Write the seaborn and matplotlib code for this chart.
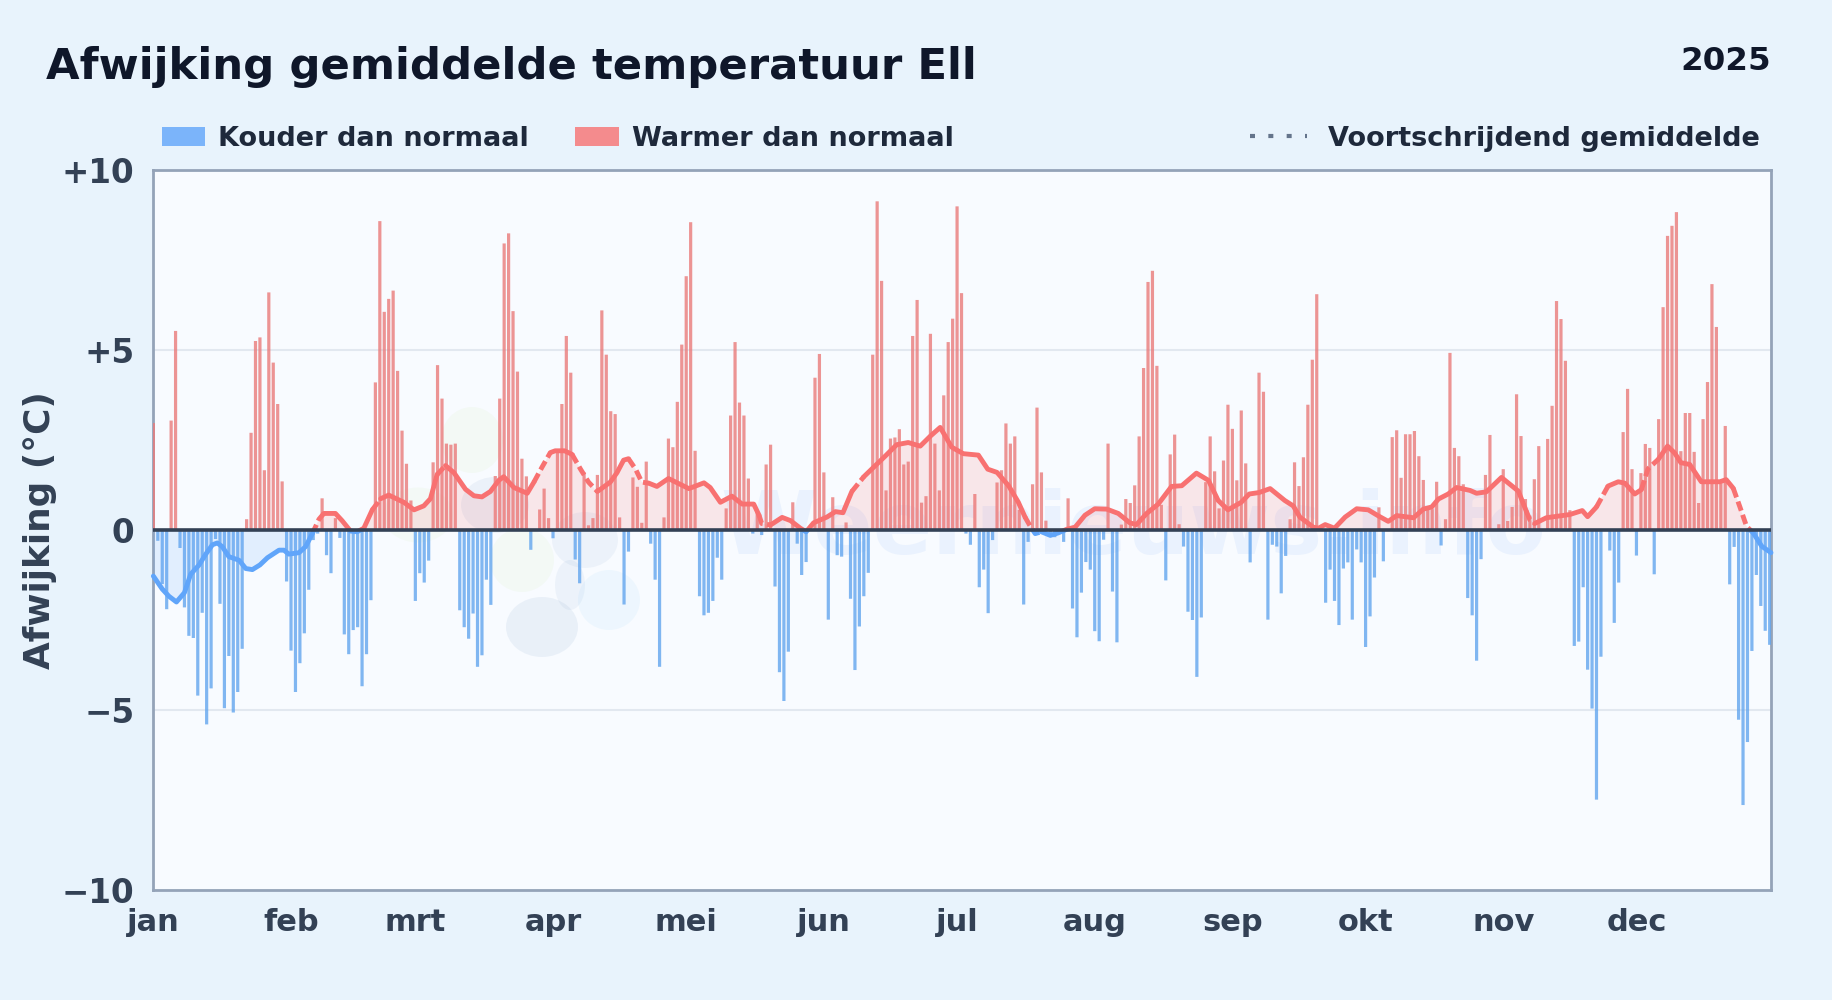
# Afwijking gemiddelde temperatuur per dag, met voortschrijdend gemiddelde
import numpy as np
import pandas as pd
import seaborn as sns
import matplotlib.pyplot as plt
from matplotlib.patches import Ellipse, Patch
from matplotlib.lines import Line2D
from matplotlib.patches import Rectangle

# dagwaarden per maand
jan = [2.97,-0.3,-1.5,-2.2,3.04,5.53,-0.5,-2.15,-2.94,-3.0,-4.6,-2.3,-5.4,-4.4,-0.25,-2.05,-4.95,-3.5,-5.07,-4.5,-3.3,0.3,2.7,5.25,5.35,1.66,6.6,4.65,3.5,1.35,-1.43]
feb = [-3.35,-4.5,-3.7,-2.87,-1.66,-0.28,-0.1,0.88,-0.7,-1.2,0.33,-0.22,-2.9,-3.45,-2.78,-2.7,-4.34,-3.45,-1.95,4.1,8.58,6.06,6.42,6.65,4.42,2.76,1.84,0.82]
mrt = [-1.97,-1.2,-1.46,-0.85,1.88,4.58,3.65,2.4,2.37,2.4,-2.23,-2.7,-3.02,-2.32,-3.8,-3.48,-1.38,-2.08,1.5,3.65,7.96,8.24,6.08,4.4,1.98,1.49,-0.55,0,0.57,1.15,0.33]
apr = [-0.23,2.15,3.5,5.39,4.37,-0.82,-1.48,1.6,0.13,0.33,1.53,6.1,4.87,3.3,3.22,0.35,-2.07,-0.6,1.46,1.2,0.2,1.9,-0.38,-1.38,-3.8,0.35,2.54,2.3,3.56,5.15]
mei = [7.05,8.55,2.2,-1.84,-2.37,-2.3,-1.97,-0.77,-1.38,0.6,3.18,5.22,3.54,3.18,1.43,-0.1,0.5,-0.14,1.82,2.37,-1.57,-3.95,-4.75,-3.38,0.77,-0.38,-1.25,-0.89,0,4.23,4.89]
jun = [1.6,-2.49,0.91,-0.7,-0.74,0.21,-1.91,-3.89,-2.68,-1.84,-1.19,4.87,9.13,6.92,1.1,2.54,2.57,2.8,1.82,1.9,5.39,6.39,0.76,0.94,5.45,2.4,1.1,3.74,5.22,5.87]
jul = [8.99,6.58,-0.1,-0.41,1.0,-1.59,-1.1,-2.31,-0.28,1.32,1.66,2.96,2.4,2.6,0.56,-2.07,-0.33,1.27,3.4,1.6,0.26,-0.1,-0.2,0,-0.33,0.88,-2.18,-2.98,-1.74,-0.89,-1.1]
aug = [-2.81,-3.09,-0.27,2.4,-1.71,-3.12,0.15,0.86,0.75,1.24,2.6,4.5,6.89,7.2,4.56,0.7,-1.4,2.1,2.65,0.16,-0.46,-2.27,-2.5,-4.08,-2.43,1.33,2.6,1.63,0.6,1.93,3.48]
sep = [2.81,1.38,3.32,1.85,-0.9,0,4.37,3.84,-2.49,-0.41,-0.46,-1.76,-0.72,0.3,1.88,1.22,2.02,3.48,4.73,6.55,0,-2.02,-1.1,-1.97,-2.64,-1.07,-0.9,-2.49,-0.54,-0.9]
okt = [-3.25,-2.4,-1.32,0.63,-0.87,0,2.58,2.77,1.45,2.66,2.66,2.75,2.05,1.39,0.58,0.58,1.34,-0.43,0.3,4.92,2.28,2.05,1.27,-1.89,-2.37,-3.63,-0.81,1.53,2.64,0,0.16]
nov = [1.69,0.25,0.64,3.77,2.61,0.86,0.4,1.41,2.33,0,2.53,3.45,6.36,5.86,4.7,0.55,-3.22,-3.1,-1.59,-3.88,-4.96,-7.49,-3.52,0,-0.57,-2.58,-1.46,2.72,3.92,1.69]
dec = [-0.71,1.58,2.39,2.28,-1.23,3.08,6.19,8.17,8.45,8.83,2.19,3.25,3.25,2.17,0.75,3.08,4.11,6.83,5.64,1.3,2.89,-1.51,-0.47,-5.27,-7.64,-5.89,-3.36,-1.25,-2.11,-2.8,-3.19]

month_labels = ["jan","feb","mrt","apr","mei","jun","jul","aug","sep","okt","nov","dec"]
month_values = [jan,feb,mrt,apr,mei,jun,jul,aug,sep,okt,nov,dec]

avg_days = [0,2,3.5,5.2,7,8.4,10.3,11.8,13.3,14.4,15.5,17,19.3,20.8,22.3,24,25.7,28.3,29.4,30.5,32.8,34.3,35.8,37.3,38.4,41,42.5,44.4,45.9,47.4,49.3,51.2,53,56.4,58.7,60.9,62.4,63.9,65.8,67.7,70.3,72.2,74,75.9,77.8,78.9,81.2,84.2,85.7,87.5,89.4,90.5,92.6,
            94.3,96.2,98,100,102.9,104.4,105.9,107,108.6,110,111.6,113.4,116,120.6,124,125.4,127.7,130.3,132.6,135.2,136.4,137,139,141.6,143.5,145.7,147,148.7,151.7,153.6,155.3,157.3,160,162.6,164.8,167.4,170,172.7,175,177.2,179.8,182.4,185.8,
            187.9,190,192.6,194.8,196.3,197.5,198.6,200,202,203.8,205.7,207.6,209.8,212,214.7,217.3,219.9,221.4,223.7,226.3,229.3,231.6,234.9,237.6,239.8,242,245,246.8,249,251.5,254.8,256.7,258.2,261.2,262.4,263.9,266,268.4,271,273.6,275.9,
            278.1,280,283.8,286,287.9,289.4,291.6,293.5,296.5,298,300.2,303.6,305.5,307.4,309.2,310,311.1,313.7,319,321.8,323,325,327.6,329.9,331.4,333.6,335.1,336.6,338.9,341,342.6,344,346,348.6,352.8,354.2,355.8,357.3,358.8,360.3,362.2,364.3]
avg_values = [-1.28,-1.64,-1.84,-2.0,-1.74,-1.23,-0.97,-0.67,-0.41,-0.36,-0.46,-0.74,-0.84,-1.07,-1.1,-0.97,-0.77,-0.56,-0.56,-0.67,-0.63,-0.46,-0.1,0.3,0.46,0.46,0.26,-0.03,-0.05,0.05,0.56,0.87,0.97,0.77,0.56,0.67,0.87,1.54,1.79,1.59,1.13,0.95,0.92,1.07,1.38,1.48,1.18,1.02,1.33,1.74,2.15,2.2,2.2,
              2.1,1.69,1.33,1.07,1.33,1.59,1.94,1.98,1.69,1.33,1.3,1.21,1.43,1.15,1.31,1.18,0.77,0.94,0.72,0.72,0.41,0.18,0.14,0.35,0.26,0.05,-0.05,0.2,0.36,0.51,0.48,1.07,1.48,1.79,2.05,2.37,2.43,2.33,2.61,2.85,2.3,2.12,2.08,
              1.69,1.6,1.23,0.77,0.36,0.1,-0.1,-0.05,-0.15,-0.08,0.02,0.08,0.41,0.59,0.58,0.46,0.2,0.15,0.46,0.72,1.21,1.23,1.58,1.38,0.82,0.56,0.77,1.0,1.04,1.15,0.82,0.67,0.36,0.08,0.05,0.15,0.05,0.36,0.59,0.56,0.39,
              0.24,0.4,0.34,0.58,0.64,0.86,1.0,1.18,1.1,1.02,1.06,1.46,1.27,1.08,0.52,0.28,0.18,0.34,0.43,0.54,0.37,0.64,1.22,1.34,1.3,1.0,1.12,1.7,1.96,2.33,2.14,1.87,1.82,1.34,1.34,1.4,1.16,0.64,0.1,-0.08,-0.45,-0.63]

y_ticks = [10, 5, 0, -5, -10]
y_tick_labels = ["+10", "+5", "0", "\u22125", "\u221210"]

# stukken waar de lijn onderbroken lijkt
gap_ranges = [(35,37.5),(47.5,51),(62.5,65),(85.7,89),(94,98),(106.5,110.5),(136,138),(155.5,158),(195,199),(307.5,311),(323.5,327),(335,337),(355,360)]

BG = "#e8f3fc"
COLD = "#60a5fa"
WARM = "#f87171"
COLD_BAR = "#62a5ee"
WARM_BAR = "#ea7a7a"

sns.set_theme(style="white")
plt.rcParams["font.family"] = ["DejaVu Sans"]
plt.rcParams["font.weight"] = "bold"

fig = plt.figure(figsize=(18.32, 10), dpi=100, facecolor=BG)
ax = fig.add_axes([152.7/1832, 1-890/1000, (1771-152.7)/1832, 720/1000], facecolor="#f8fbff")

month_starts = np.cumsum([0] + [len(m) for m in month_values[:-1]])
values = np.concatenate(month_values)
assert len(values) == 365 and len(avg_days) == len(avg_values)
df = pd.DataFrame({"dag": np.arange(365), "afwijking": values})

# watermerk
for (cx, cy, w, h, col, a) in [(472,440,62,66,"#bbe28a",0.08),(418,515,70,55,"#bbe28a",0.07),(495,505,68,56,"#6b93c4",0.09),
                               (522,560,64,64,"#bbe28a",0.08),(585,540,66,56,"#6b93c4",0.08),(542,627,72,60,"#6b93c4",0.10),
                               (570,585,30,50,"#6b93c4",0.08),(609,600,62,60,"#60c0fa",0.07)]:
    ax.add_patch(Ellipse(((cx-152.7)/1618.3, (890-cy)/720), w/1618.3, h/720, transform=ax.transAxes,
                         facecolor=col, alpha=a, edgecolor="none", zorder=0.5))
ax.text((1133-152.7)/1618.3, 0.5, "Weernieuws.info", transform=ax.transAxes, ha="center", va="center",
        fontsize=63, fontweight="bold", color="#3b82f6", alpha=0.07, zorder=0.6)

ax.axhline(5, color="#e2e8f0", lw=1.5, zorder=1)
ax.axhline(-5, color="#e2e8f0", lw=1.5, zorder=1)

# staven
warm = df[df["afwijking"] > 0]
cold = df[df["afwijking"] < 0]
n_before = len(ax.patches)
sns.barplot(data=warm, x="dag", y="afwijking", native_scale=True, color=WARM_BAR, saturation=1, alpha=0.8,
            width=0.72, errorbar=None, linewidth=0, ax=ax, zorder=2)
sns.barplot(data=cold, x="dag", y="afwijking", native_scale=True, color=COLD_BAR, saturation=1, alpha=0.8,
            width=0.72, errorbar=None, linewidth=0, ax=ax, zorder=2)
for bar in ax.patches[n_before:]:
    bar.set_snap(False)

# vulling onder het gemiddelde
ax.fill_between(avg_days, avg_values, 0, where=np.array(avg_values) >= 0, interpolate=True, color=WARM, alpha=0.15, lw=0, zorder=2.5)
ax.fill_between(avg_days, avg_values, 0, where=np.array(avg_values) <= 0, interpolate=True, color=COLD, alpha=0.15, lw=0, zorder=2.5)

# lijn in stukken, rood boven nul en blauw onder nul
days = np.array(avg_days)
vals = np.array(avg_values)
flags = np.array([any(lo <= d <= hi for lo, hi in gap_ranges) for d in days])
edges = [0] + [i for i in range(1, len(days)) if flags[i] != flags[i-1]] + [len(days)-1]
for a, b in zip(edges[:-1], edges[1:]):
    dashed = flags[a+1] if b > a+1 else flags[a]
    for col, rect in [(WARM, (-5, 0, 380, 12)), (COLD, (-5, -12, 380, 12))]:
        n = len(ax.lines)
        sns.lineplot(x=days[a:b+1], y=vals[a:b+1], color=col, lw=3.5, estimator=None, sort=False, ax=ax, zorder=3)
        line = ax.lines[n]
        line.set_solid_capstyle("round")
        if dashed:
            line.set_dashes((2.0, 0.9))
            line.set_dash_capstyle("butt")
        line.set_clip_path(Rectangle(rect[:2], rect[2], rect[3], transform=ax.transData))

ax.axhline(0, color="#334155", lw=2.6, zorder=4)

ax.set_xlim(-0.15, 364.3)
ax.set_ylim(-10, 10)
ax.set_xticks(month_starts)
ax.set_xticklabels(month_labels, fontsize=22, fontweight="bold", color="#334155")
ax.set_yticks(y_ticks)
ax.set_yticklabels(y_tick_labels, fontsize=23.5, fontweight="bold", color="#334155")
ax.tick_params(axis="x", length=0, pad=13.2)
ax.tick_params(axis="y", length=0, pad=13.3)
ax.set_xlabel("")
ax.set_ylabel("")
for s in ax.spines.values():
    s.set_visible(True)
    s.set_color("#94a3b8")
    s.set_linewidth(2)
    s.set_zorder(1.5)

fig.text(40.5/1832, 1-530/1000, "Afwijking (\u00b0C)", rotation=90, ha="center", va="center", fontsize=25.8, fontweight="bold", color="#334155")
fig.text(46/1832, 1-67.5/1000, "Afwijking gemiddelde temperatuur Ell", ha="left", va="center", fontsize=31.2, fontweight="bold", color="#0f172a")
fig.text(1771/1832, 1-61.5/1000, "2025", ha="right", va="center", fontsize=23.4, fontweight="bold", color="#0f172a")

left_handles = [Patch(facecolor=COLD, alpha=0.8, lw=0), Patch(facecolor=WARM, alpha=0.8, lw=0)]
fig.legend(left_handles, ["Kouder dan normaal", "Warmer dan normaal"], loc="center left", bbox_to_anchor=(162/1832, 1-139/1000),
           ncol=2, frameon=False, fontsize=19.55, labelcolor="#1e293b", borderpad=0, borderaxespad=0,
           handlelength=1.6, handleheight=0.7, handletextpad=0.48, columnspacing=1.69)
right_handles = [Line2D([0], [0], color="#64748b", lw=3, linestyle=(0, (1.2, 3.2)))]
fig.legend(right_handles, ["Voortschrijdend gemiddelde"], loc="center right", bbox_to_anchor=(1760/1832, 1-139/1000),
           frameon=False, fontsize=19.55, labelcolor="#1e293b", borderpad=0, borderaxespad=0, handlelength=2.1, handletextpad=0.78)

fig.savefig("out.png", dpi=100, facecolor=BG)
